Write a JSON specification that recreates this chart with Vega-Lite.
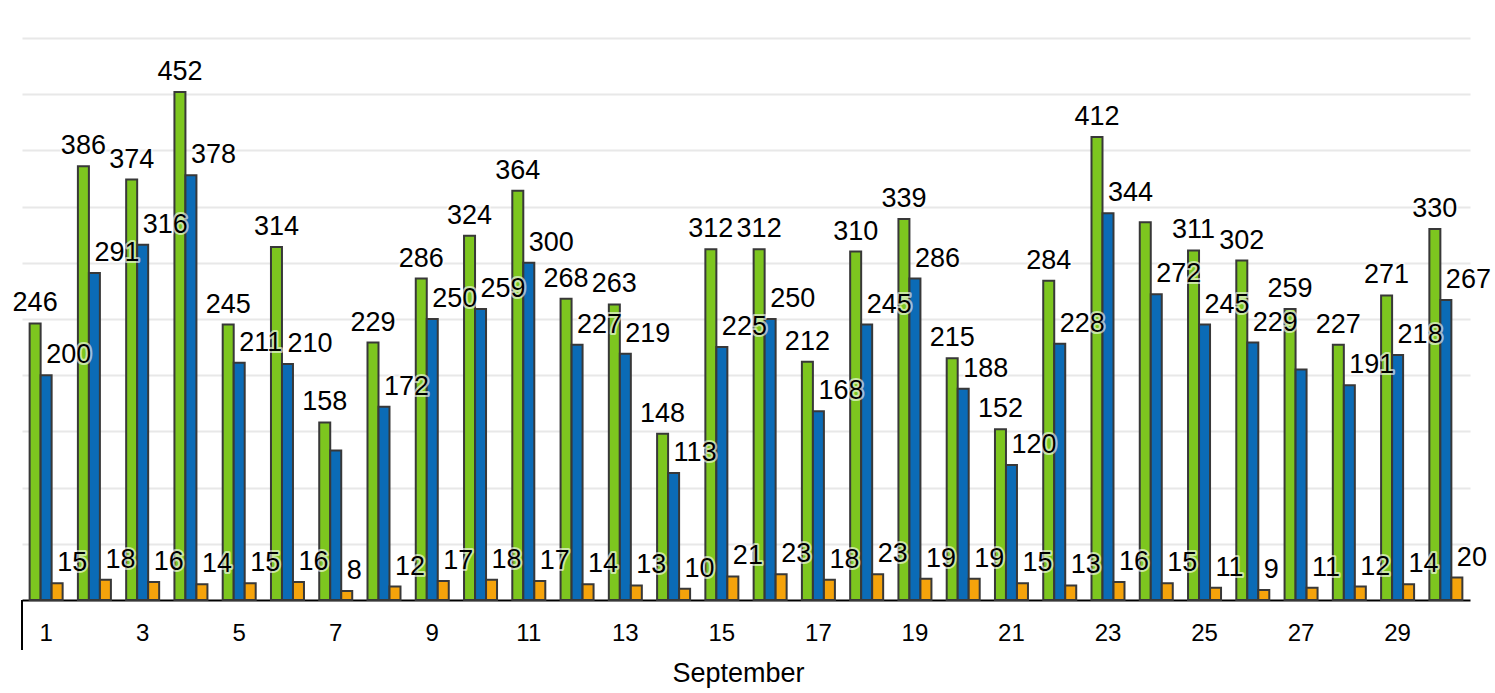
{
  "$schema": "https://vega.github.io/schema/vega-lite/v6.json",
  "width": 1448,
  "height": 562,
  "autosize": {"type": "none"},
  "padding": {"left": 22, "top": 38, "right": 25, "bottom": 93},
  "background": "white",
  "config": {"view": {"stroke": null}, "font": "Liberation Sans"},
  "datasets": {
    "ticks": [{"day": 1, "from": 0, "to": -44.5}],
    "main": [
    {"day":1,"series":"s1","value":246,"label":"246"},{"day":1,"series":"s2","value":200,"label":"200"},{"day":1,"series":"s3","value":15,"label":"15"},
    {"day":2,"series":"s1","value":386,"label":"386"},{"day":2,"series":"s2","value":291,"label":"291"},{"day":2,"series":"s3","value":18,"label":"18"},
    {"day":3,"series":"s1","value":374,"label":"374"},{"day":3,"series":"s2","value":316,"label":"316"},{"day":3,"series":"s3","value":16,"label":"16"},
    {"day":4,"series":"s1","value":452,"label":"452"},{"day":4,"series":"s2","value":378,"label":"378"},{"day":4,"series":"s3","value":14,"label":"14"},
    {"day":5,"series":"s1","value":245,"label":"245"},{"day":5,"series":"s2","value":211,"label":"211"},{"day":5,"series":"s3","value":15,"label":"15"},
    {"day":6,"series":"s1","value":314,"label":"314"},{"day":6,"series":"s2","value":210,"label":"210"},{"day":6,"series":"s3","value":16,"label":"16"},
    {"day":7,"series":"s1","value":158,"label":"158"},{"day":7,"series":"s2","value":133,"label":""},{"day":7,"series":"s3","value":8,"label":"8"},
    {"day":8,"series":"s1","value":229,"label":"229"},{"day":8,"series":"s2","value":172,"label":"172"},{"day":8,"series":"s3","value":12,"label":"12"},
    {"day":9,"series":"s1","value":286,"label":"286"},{"day":9,"series":"s2","value":250,"label":"250"},{"day":9,"series":"s3","value":17,"label":"17"},
    {"day":10,"series":"s1","value":324,"label":"324"},{"day":10,"series":"s2","value":259,"label":"259"},{"day":10,"series":"s3","value":18,"label":"18"},
    {"day":11,"series":"s1","value":364,"label":"364"},{"day":11,"series":"s2","value":300,"label":"300"},{"day":11,"series":"s3","value":17,"label":"17"},
    {"day":12,"series":"s1","value":268,"label":"268"},{"day":12,"series":"s2","value":227,"label":"227"},{"day":12,"series":"s3","value":14,"label":"14"},
    {"day":13,"series":"s1","value":263,"label":"263"},{"day":13,"series":"s2","value":219,"label":"219"},{"day":13,"series":"s3","value":13,"label":"13"},
    {"day":14,"series":"s1","value":148,"label":"148"},{"day":14,"series":"s2","value":113,"label":"113"},{"day":14,"series":"s3","value":10,"label":"10"},
    {"day":15,"series":"s1","value":312,"label":"312"},{"day":15,"series":"s2","value":225,"label":"225"},{"day":15,"series":"s3","value":21,"label":"21"},
    {"day":16,"series":"s1","value":312,"label":"312"},{"day":16,"series":"s2","value":250,"label":"250"},{"day":16,"series":"s3","value":23,"label":"23"},
    {"day":17,"series":"s1","value":212,"label":"212"},{"day":17,"series":"s2","value":168,"label":"168"},{"day":17,"series":"s3","value":18,"label":"18"},
    {"day":18,"series":"s1","value":310,"label":"310"},{"day":18,"series":"s2","value":245,"label":"245"},{"day":18,"series":"s3","value":23,"label":"23"},
    {"day":19,"series":"s1","value":339,"label":"339"},{"day":19,"series":"s2","value":286,"label":"286"},{"day":19,"series":"s3","value":19,"label":"19"},
    {"day":20,"series":"s1","value":215,"label":"215"},{"day":20,"series":"s2","value":188,"label":"188"},{"day":20,"series":"s3","value":19,"label":"19"},
    {"day":21,"series":"s1","value":152,"label":"152"},{"day":21,"series":"s2","value":120,"label":"120"},{"day":21,"series":"s3","value":15,"label":"15"},
    {"day":22,"series":"s1","value":284,"label":"284"},{"day":22,"series":"s2","value":228,"label":"228"},{"day":22,"series":"s3","value":13,"label":"13"},
    {"day":23,"series":"s1","value":412,"label":"412"},{"day":23,"series":"s2","value":344,"label":"344"},{"day":23,"series":"s3","value":16,"label":"16"},
    {"day":24,"series":"s1","value":336,"label":""},{"day":24,"series":"s2","value":272,"label":"272"},{"day":24,"series":"s3","value":15,"label":"15"},
    {"day":25,"series":"s1","value":311,"label":"311"},{"day":25,"series":"s2","value":245,"label":"245"},{"day":25,"series":"s3","value":11,"label":"11"},
    {"day":26,"series":"s1","value":302,"label":"302"},{"day":26,"series":"s2","value":229,"label":"229"},{"day":26,"series":"s3","value":9,"label":"9"},
    {"day":27,"series":"s1","value":259,"label":"259"},{"day":27,"series":"s2","value":205,"label":""},{"day":27,"series":"s3","value":11,"label":"11"},
    {"day":28,"series":"s1","value":227,"label":"227"},{"day":28,"series":"s2","value":191,"label":"191"},{"day":28,"series":"s3","value":12,"label":"12"},
    {"day":29,"series":"s1","value":271,"label":"271"},{"day":29,"series":"s2","value":218,"label":"218"},{"day":29,"series":"s3","value":14,"label":"14"},
    {"day":30,"series":"s1","value":330,"label":"330"},{"day":30,"series":"s2","value":267,"label":"267"},{"day":30,"series":"s3","value":20,"label":"20"}
  ]},
  "data": {"name": "main"},
  "layer": [
    {
      "mark": {"type": "bar", "stroke": "#383838", "strokeWidth": 2},
      "encoding": {
        "x": {
          "field": "day", "type": "ordinal",
          "scale": {"paddingInner": 0, "paddingOuter": 0},
          "axis": {
            "values": [1,3,5,7,9,11,13,15,17,19,21,23,25,27,29],
            "title": "September", "titleFontSize": 27, "titleFontWeight": "normal", "titleColor": "#000", "titlePadding": 15, "titleX": 716,
            "labelFontSize": 24, "labelColor": "#000", "labelAngle": 0, "labelPadding": 21,
            "ticks": false, "domainColor": "#000", "domainWidth": 2, "grid": false
          }
        },
        "xOffset": {"field": "series", "type": "nominal", "scale": {"paddingInner": 0, "paddingOuter": 0.694}},
        "y": {
          "field": "value", "type": "quantitative",
          "scale": {"domain": [0, 500], "nice": false},
          "axis": {"title": null, "labels": false, "ticks": false, "domain": false, "grid": true,
                   "values": [50,100,150,200,250,300,350,400,450,500], "gridColor": "#e8e8e8", "gridWidth": 2}
        },
        "color": {"field": "series", "type": "nominal", "legend": null,
                  "scale": {"domain": ["s1","s2","s3"], "range": ["#7dc61f", "#0b6bb6", "#f5a30b"]}}
      }
    },
    {
      "transform": [{"filter": "datum.series == 's1'"}],
      "mark": {"type": "text", "fontSize": 27, "align": "center", "baseline": "alphabetic", "dy": -12, "stroke": "white", "strokeWidth": 4, "strokeOpacity": 0.6, "fill": "white", "strokeJoin": "round"},
      "encoding": {
        "x": {"field": "day", "type": "ordinal"},
        "xOffset": {"field": "series", "type": "nominal"},
        "y": {"field": "value", "type": "quantitative"},
        "text": {"field": "label"}
      }
    },
    {
      "transform": [{"filter": "datum.series != 's1'"}],
      "mark": {"type": "text", "fontSize": 27, "align": "left", "baseline": "alphabetic", "dy": -12, "stroke": "white", "strokeWidth": 4, "strokeOpacity": 0.6, "fill": "white", "strokeJoin": "round"},
      "encoding": {
        "x": {"field": "day", "type": "ordinal"},
        "xOffset": {"field": "series", "type": "nominal"},
        "y": {"field": "value", "type": "quantitative"},
        "text": {"field": "label"}
      }
    },
    {
      "transform": [{"filter": "datum.series == 's1'"}],
      "mark": {"type": "text", "fontSize": 27, "align": "center", "baseline": "alphabetic", "dy": -12, "fill": "#000"},
      "encoding": {
        "x": {"field": "day", "type": "ordinal"},
        "xOffset": {"field": "series", "type": "nominal"},
        "y": {"field": "value", "type": "quantitative"},
        "text": {"field": "label"}
      }
    },
    {
      "transform": [{"filter": "datum.series != 's1'"}],
      "mark": {"type": "text", "fontSize": 27, "align": "left", "baseline": "alphabetic", "dy": -12, "fill": "#000"},
      "encoding": {
        "x": {"field": "day", "type": "ordinal"},
        "xOffset": {"field": "series", "type": "nominal"},
        "y": {"field": "value", "type": "quantitative"},
        "text": {"field": "label"}
      }
    },
    {
      "data": {"name": "ticks"},
      "mark": {"type": "rule", "color": "#000", "strokeWidth": 2},
      "encoding": {
        "x": {"field": "day", "type": "ordinal", "bandPosition": 0},
        "y": {"field": "from", "type": "quantitative"},
        "y2": {"field": "to"}
      }
    }
  ]
}
